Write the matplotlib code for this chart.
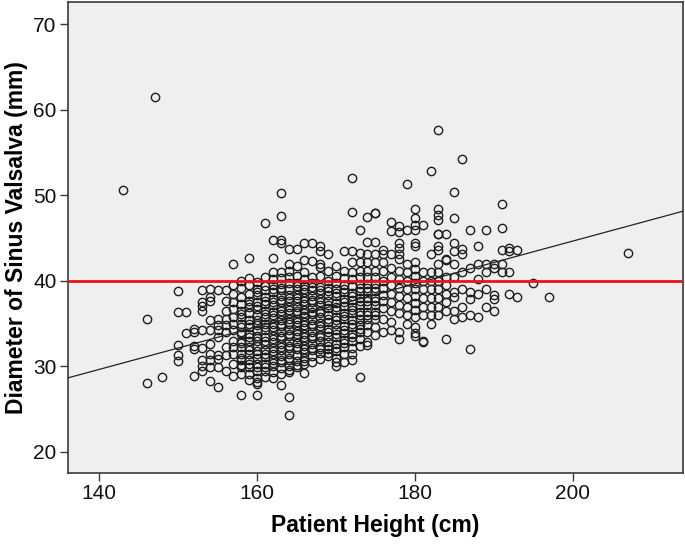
import matplotlib
matplotlib.use("Agg")
import matplotlib.pyplot as plt
import numpy as np

# Heights (cm) and the diameters (mm) read at each height
heights = [143, 146, 147, 148, 150, 151, 152, 153, 154, 155, 156, 157, 158, 159,
           160, 161, 162, 163, 164, 165, 166, 167, 168, 169, 170, 171, 172, 173,
           174, 175, 176, 177, 178, 179, 180, 181, 182, 183, 184, 185, 186, 187,
           188, 189, 190, 191, 192, 193, 195, 197, 207]

diameters = [
    [50.6],
    [35.6, 28.1],
    [61.5],
    [28.8],
    [38.8, 36.4, 32.5, 31.3, 30.6],
    [36.4, 33.9],
    [34.4, 34.0, 32.4, 32.0, 28.9],
    [38.9, 37.5, 37.1, 36.5, 34.2, 32.1, 30.7, 30.1, 29.5],
    [39.1, 38.1, 37.7, 35.4, 34.2, 32.6, 31.5, 30.7, 29.9, 28.3],
    [38.9, 35.6, 34.8, 34.2, 33.4, 31.3, 30.9, 29.9, 27.6],
    [38.9, 37.7, 36.5, 35.6, 34.8, 34.0, 32.3, 31.3, 29.5],
    [42.0, 39.5, 38.5, 37.5, 36.7, 35.8, 35.0, 34.2, 33.0, 32.3, 31.5, 30.3, 28.9],
    [40.0, 39.2, 38.1, 37.3, 36.5, 36.1, 35.8, 35.0, 34.6, 34.0, 33.8, 33.0,
     32.7, 32.3, 31.5, 31.0, 30.7, 30.2, 29.9, 29.1, 26.7],
    [42.7, 40.3, 39.5, 38.5, 37.7, 37.3, 36.9, 36.2, 35.4, 35.0, 34.6, 33.8,
     33.4, 33.0, 32.3, 31.9, 31.5, 30.7, 30.3, 29.9, 29.1, 28.4],
    [39.9, 39.1, 38.7, 38.3, 37.5, 37.1, 36.7, 36.0, 35.4, 35.1, 34.8, 34.2,
     33.6, 33.3, 33.0, 32.4, 31.8, 31.4, 31.0, 30.3, 29.9, 29.5, 28.6, 28.2,
     27.9, 26.7],
    [46.8, 40.4, 39.4, 38.9, 38.1, 37.7, 37.3, 36.5, 36.1, 35.8, 35.0, 34.6,
     34.2, 33.4, 33.0, 32.6, 31.9, 31.5, 31.1, 30.3, 29.9, 29.5, 28.8],
    [44.8, 42.7, 41.0, 40.2, 39.5, 39.1, 38.7, 37.9, 37.5, 37.2, 36.4, 36.0,
     35.7, 35.0, 34.6, 34.3, 33.6, 33.2, 32.9, 32.2, 31.8, 31.5, 30.8, 30.4,
     30.0, 29.3, 28.6],
    [50.3, 47.6, 44.8, 44.4, 41.0, 40.3, 39.6, 39.2, 38.9, 38.2, 37.8, 37.5,
     36.8, 36.5, 36.1, 35.4, 35.0, 34.7, 34.0, 33.6, 33.3, 32.6, 32.3, 31.9,
     31.2, 30.8, 30.5, 29.8, 29.1, 27.8],
    [43.7, 42.0, 41.2, 40.5, 39.8, 39.1, 38.4, 38.0, 37.7, 37.0, 36.6, 36.3,
     35.6, 35.2, 34.9, 34.2, 33.8, 33.5, 32.8, 32.4, 32.1, 31.4, 31.0, 30.7,
     30.0, 29.6, 29.3, 26.4, 24.3],
    [43.7, 41.8, 40.6, 39.8, 39.4, 39.0, 38.3, 38.0, 37.6, 36.9, 36.5, 36.2,
     35.5, 35.2, 34.8, 34.1, 33.8, 33.4, 32.7, 32.3, 32.0, 31.3, 30.6, 30.2,
     29.9],
    [44.4, 42.5, 41.0, 40.2, 39.4, 39.0, 38.7, 38.0, 37.6, 37.3, 36.6, 36.2,
     35.9, 35.2, 34.8, 34.5, 33.8, 33.4, 33.1, 32.4, 32.0, 31.7, 31.0, 30.6,
     30.3, 29.2],
    [44.4, 42.3, 40.5, 39.7, 39.3, 38.9, 38.2, 37.8, 37.5, 36.8, 36.4, 36.1,
     35.4, 35.0, 34.7, 34.0, 33.6, 33.3, 32.6, 32.2, 31.9, 31.2, 30.5],
    [44.1, 43.5, 42.0, 41.6, 40.6, 39.3, 38.9, 38.6, 37.9, 37.5, 37.2, 36.5,
     36.2, 35.8, 35.1, 34.7, 34.4, 33.7, 33.4, 33.0, 32.3, 32.0, 31.6, 30.9],
    [43.2, 41.2, 40.0, 39.2, 38.8, 38.4, 37.6, 37.2, 36.8, 36.0, 35.6, 35.2,
     34.4, 34.0, 33.6, 32.8, 32.4, 32.0, 31.6, 31.2],
    [41.8, 40.6, 39.8, 39.0, 38.6, 38.2, 37.4, 37.0, 36.6, 35.8, 35.4, 35.0,
     34.2, 33.8, 33.4, 32.6, 32.2, 31.8, 31.0, 30.5, 30.0],
    [43.5, 41.2, 40.3, 39.5, 39.1, 38.7, 37.9, 37.5, 37.1, 36.3, 35.9, 35.5,
     34.7, 34.3, 33.9, 33.1, 32.7, 32.3, 31.5, 30.5],
    [52.0, 48.0, 43.5, 42.2, 41.0, 40.2, 39.4, 38.6, 38.2, 37.8, 37.0, 36.6,
     36.2, 35.4, 35.0, 34.6, 33.8, 33.4, 33.0, 32.2, 31.4, 30.7],
    [46.0, 43.3, 42.2, 41.2, 40.4, 39.6, 39.2, 38.8, 38.0, 37.6, 37.2, 36.4,
     36.0, 35.6, 34.8, 34.4, 34.0, 33.2, 32.4, 28.8],
    [47.5, 44.6, 43.2, 42.2, 41.2, 40.4, 39.6, 39.2, 38.8, 38.0, 37.6, 37.2,
     36.4, 36.0, 35.6, 34.8, 34.0, 32.8, 32.5],
    [47.9, 47.9, 44.6, 43.2, 42.2, 41.2, 40.4, 39.6, 39.2, 38.8, 38.0, 37.6,
     37.2, 36.4, 36.0, 35.6, 34.6, 33.7],
    [43.6, 43.1, 42.2, 41.2, 40.0, 39.2, 38.4, 37.6, 36.8, 35.6, 34.0],
    [46.9, 45.8, 43.2, 41.5, 40.5, 39.5, 38.5, 37.5, 36.5, 35.2, 34.2],
    [46.4, 45.7, 44.4, 43.8, 43.2, 42.6, 41.2, 40.2, 39.2, 38.2, 37.2, 36.2,
     34.0, 33.2],
    [51.3, 46.0, 42.0, 41.0, 40.0, 39.0, 38.0, 37.0, 36.0, 35.0],
    [48.4, 47.3, 46.5, 45.9, 44.4, 44.1, 42.2, 41.4, 40.6, 39.8, 39.0, 38.2,
     37.4, 36.6, 35.8, 34.6, 33.9, 33.5],
    [46.5, 41.0, 40.0, 39.0, 38.0, 37.0, 36.0, 33.0, 32.8],
    [52.9, 43.2, 41.0, 40.0, 39.0, 38.0, 37.0, 36.0, 35.0],
    [57.6, 48.4, 47.7, 47.1, 45.5, 45.5, 44.1, 43.6, 42.0, 41.0, 40.0, 39.0,
     38.0, 37.0, 36.0],
    [45.5, 42.6, 42.4, 40.5, 39.5, 38.5, 37.5, 36.5, 33.2],
    [50.4, 47.4, 44.4, 43.5, 42.0, 40.5, 38.7, 38.1, 36.5, 35.5],
    [54.2, 43.7, 43.2, 41.0, 39.0, 37.0, 35.8],
    [46.0, 41.5, 38.7, 37.9, 36.0, 32.0],
    [44.1, 42.0, 40.2, 38.5, 35.8],
    [46.0, 42.0, 41.0, 39.0, 37.0],
    [42.0, 41.5, 38.4, 37.9, 36.5],
    [49.0, 46.2, 43.6, 42.0, 41.0],
    [43.8, 43.5, 41.0, 38.5],
    [43.6, 38.1],
    [39.7],
    [38.1],
    [43.3],
]

fit_intercept = -5.35
fit_slope = 0.25
ref_level = 40

x = np.concatenate([[h] * len(d) for h, d in zip(heights, diameters)])
y = np.concatenate(diameters)

plt.rcParams['font.family'] = ['Liberation Sans', 'DejaVu Sans']

fig = plt.figure(figsize=(6.85, 5.49), dpi=100)
ax = fig.add_axes([0.099, 0.138, 0.898, 0.858])
ax.set_facecolor('#efefef')

ax.plot(x, y, 'o', markersize=6.0, markerfacecolor='none',
        markeredgecolor='#1e1e1e', markeredgewidth=1.0, zorder=2)

xlim = (136, 214)
xs = np.array(xlim)
ax.plot(xs, fit_intercept + fit_slope * xs, color='#222222', lw=0.9, zorder=3)
ax.axhline(ref_level, color='#e8141c', lw=2.0, zorder=4)

ax.set_xlim(*xlim)
ax.set_ylim(17.5, 72.6)
ax.set_xticks([140, 160, 180, 200])
ax.set_yticks([20, 30, 40, 50, 60, 70])

for s in ax.spines.values():
    s.set_color('#3a3a3a')
    s.set_linewidth(1.2)
ax.tick_params(direction='out', length=6, width=1.0, color='#3a3a3a',
               labelsize=15, pad=2, labelcolor='#111111')

ax.set_xlabel('Patient Height (cm)', fontsize=16.5, fontweight='bold', labelpad=8)
ax.set_ylabel('Diameter of Sinus Valsalva (mm)', fontsize=16.5,
              fontweight='bold', labelpad=4)

fig.savefig('out.png', dpi=100)
